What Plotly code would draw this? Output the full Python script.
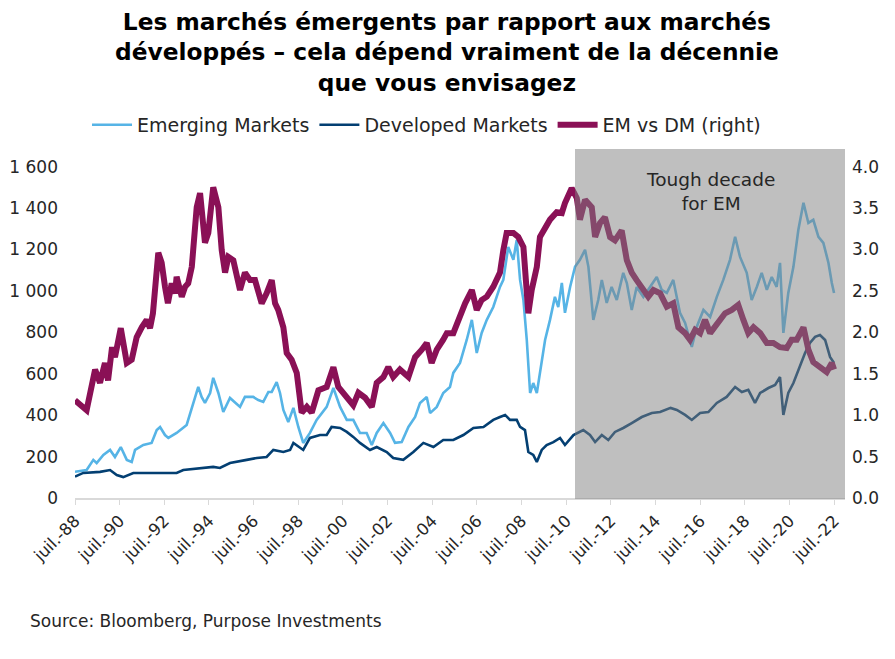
import plotly.graph_objects as go

# ---------------- data ----------------
em_years = [1988.50, 1989.02, 1989.32, 1989.47, 1989.77, 1990.07, 1990.29, 1990.55, 1990.82, 1991.04,
            1991.19, 1991.56, 1991.93, 1992.16, 1992.31, 1992.53, 1992.68, 1993.05, 1993.50, 1993.80,
            1994.02, 1994.17, 1994.32, 1994.55, 1994.69, 1994.92, 1995.14, 1995.44, 1995.89, 1996.11,
            1996.48, 1996.71, 1996.93, 1997.16, 1997.31, 1997.53, 1997.68, 1997.83, 1998.05, 1998.28,
            1998.50, 1998.72, 1999.02, 1999.32, 1999.55, 1999.77, 2000.07, 2000.37, 2000.67, 2000.96,
            2001.26, 2001.56, 2001.79, 2002.01, 2002.31, 2002.61, 2002.83, 2003.13, 2003.43, 2003.73,
            2003.95, 2004.25, 2004.40, 2004.70, 2004.99, 2005.29, 2005.44, 2005.74, 2006.04, 2006.27,
            2006.49, 2006.71, 2006.94, 2007.23, 2007.53, 2007.68, 2007.90, 2008.13, 2008.28, 2008.43,
            2008.58, 2008.73, 2008.88, 2009.02, 2009.18, 2009.32, 2009.55, 2009.77, 2009.99, 2010.14,
            2010.30, 2010.44, 2010.67, 2010.89, 2011.11, 2011.34, 2011.49, 2011.71, 2011.93, 2012.09,
            2012.31, 2012.53, 2012.76, 2013.05, 2013.21, 2013.43, 2013.65, 2013.95, 2014.25, 2014.55,
            2014.77, 2015.00, 2015.29, 2015.59, 2015.82, 2016.12, 2016.34, 2016.64, 2016.94, 2017.24,
            2017.53, 2017.83, 2018.06, 2018.28, 2018.58, 2018.80, 2019.03, 2019.25, 2019.48, 2019.70,
            2019.92, 2020.07, 2020.22, 2020.44, 2020.67, 2020.89, 2021.12, 2021.34, 2021.56, 2021.79,
            2022.01, 2022.24, 2022.39, 2022.49]
em_values = [127, 135, 184, 169, 208, 232, 198, 246, 184, 174,
             232, 256, 266, 328, 343, 304, 290, 314, 353, 459,
             536, 488, 459, 507, 580, 507, 415, 483, 440, 488,
             488, 473, 464, 512, 512, 560, 507, 425, 367, 435,
             343, 266, 314, 377, 410, 440, 531, 440, 377, 377,
             314, 314, 256, 314, 362, 314, 266, 270, 343, 391,
             459, 488, 410, 440, 507, 536, 604, 652, 763, 860,
             700, 797, 860, 922, 1019, 1053, 1212, 1150, 1246, 1053,
             956, 763, 507, 555, 507, 604, 763, 860, 971, 922,
             1038, 894, 1019, 1116, 1150, 1198, 1116, 860, 956, 1053,
             942, 1019, 956, 1087, 1038, 908, 1019, 971, 1019, 1067,
             1005, 990, 1053, 894, 845, 729, 826, 908, 874, 971,
             1053, 1150, 1261, 1164, 1087, 956, 1019, 1087, 1005, 1067,
             1019, 1135, 797, 990, 1116, 1294, 1425, 1328, 1343, 1261,
             1232, 1135, 1038, 990]

dm_years = [1988.50, 1988.87, 1989.62, 1990.07, 1990.37, 1990.66, 1991.11, 1991.86, 1992.61, 1993.05,
            1993.35, 1994.10, 1994.69, 1994.99, 1995.44, 1996.19, 1996.64, 1997.08, 1997.38, 1997.83,
            1998.13, 1998.28, 1998.72, 1999.02, 1999.47, 1999.77, 1999.99, 2000.37, 2000.67, 2000.96,
            2001.26, 2001.71, 2002.01, 2002.46, 2002.75, 2003.20, 2003.65, 2004.10, 2004.55, 2004.99,
            2005.44, 2005.89, 2006.34, 2006.79, 2007.23, 2007.53, 2007.76, 2007.98, 2008.28, 2008.43,
            2008.65, 2008.80, 2009.02, 2009.18, 2009.40, 2009.62, 2009.92, 2010.22, 2010.44, 2010.82,
            2011.26, 2011.56, 2011.79, 2012.09, 2012.38, 2012.68, 2013.05, 2013.43, 2013.88, 2014.33,
            2014.70, 2015.17, 2015.45, 2015.82, 2016.12, 2016.49, 2016.86, 2017.24, 2017.68, 2018.06,
            2018.36, 2018.65, 2018.95, 2019.18, 2019.55, 2019.85, 2020.07, 2020.22, 2020.44, 2020.67,
            2020.89, 2021.19, 2021.41, 2021.64, 2021.86, 2022.09, 2022.31, 2022.49]
dm_values = [103, 121, 126, 135, 111, 101, 121, 121, 121, 121,
             135, 145, 150, 145, 169, 184, 193, 198, 232, 222,
             232, 266, 232, 290, 304, 304, 343, 338, 319, 295,
             266, 232, 246, 222, 193, 184, 222, 266, 246, 280,
             280, 304, 338, 343, 377, 391, 401, 377, 377, 343,
             328, 222, 208, 174, 232, 256, 270, 290, 256, 304,
             328, 304, 270, 304, 280, 319, 338, 362, 391, 410,
             415, 435, 425, 401, 377, 410, 415, 459, 488, 536,
             512, 522, 459, 507, 531, 546, 584, 401, 507, 555,
             618, 700, 749, 778, 787, 763, 681, 652]

ratio_years = [1988.50, 1989.02, 1989.40, 1989.62, 1989.84, 1989.98, 1990.16, 1990.29, 1990.55, 1990.82,
               1991.04, 1991.26, 1991.49, 1991.71, 1991.86, 1991.99, 1992.23, 1992.38, 1992.53, 1992.66,
               1992.83, 1992.98, 1993.05, 1993.28, 1993.43, 1993.57, 1993.73, 1993.95, 1994.10, 1994.32,
               1994.47, 1994.69, 1994.92, 1995.07, 1995.22, 1995.37, 1995.59, 1995.89, 1996.11, 1996.34,
               1996.56, 1996.86, 1997.08, 1997.31, 1997.46, 1997.60, 1997.83, 1997.98, 1998.20, 1998.43,
               1998.65, 1998.88, 1999.10, 1999.40, 1999.77, 2000.07, 2000.29, 2000.67, 2000.96, 2001.19,
               2001.49, 2001.79, 2002.01, 2002.31, 2002.53, 2002.75, 2003.05, 2003.43, 2003.73, 2004.03,
               2004.25, 2004.47, 2004.70, 2004.99, 2005.15, 2005.44, 2005.67, 2005.97, 2006.27, 2006.49,
               2006.71, 2006.94, 2007.23, 2007.53, 2007.68, 2007.83, 2008.13, 2008.35, 2008.58, 2008.73,
               2008.80, 2008.95, 2009.18, 2009.32, 2009.55, 2009.77, 2010.07, 2010.30, 2010.44, 2010.74,
               2010.97, 2011.11, 2011.34, 2011.64, 2011.79, 2012.01, 2012.23, 2012.46, 2012.68, 2012.98,
               2013.21, 2013.43, 2013.65, 2013.88, 2014.17, 2014.40, 2014.70, 2015.00, 2015.29, 2015.52,
               2015.82, 2016.04, 2016.27, 2016.49, 2016.71, 2016.94, 2017.24, 2017.61, 2017.91, 2018.20,
               2018.43, 2018.65, 2018.88, 2019.18, 2019.48, 2019.77, 2020.07, 2020.37, 2020.59, 2020.82,
               2021.12, 2021.34, 2021.56, 2021.86, 2022.16, 2022.39, 2022.49]
ratio_values = [1.18, 1.06, 1.55, 1.39, 1.63, 1.42, 1.82, 1.70, 2.05, 1.63,
                1.67, 1.94, 2.06, 2.15, 2.05, 2.23, 2.96, 2.84, 2.55, 2.35,
                2.59, 2.47, 2.67, 2.43, 2.55, 2.59, 2.79, 3.51, 3.68, 3.08,
                3.20, 3.75, 3.51, 2.99, 2.72, 2.91, 2.87, 2.51, 2.72, 2.63,
                2.63, 2.35, 2.47, 2.63, 2.35, 2.27, 2.06, 1.75, 1.67, 1.51,
                1.03, 1.10, 1.03, 1.30, 1.34, 1.58, 1.34, 1.22, 1.12, 1.27,
                1.21, 1.10, 1.39, 1.46, 1.58, 1.46, 1.55, 1.46, 1.70, 1.79,
                1.87, 1.63, 1.79, 1.91, 1.99, 1.99, 2.15, 2.35, 2.51, 2.27,
                2.39, 2.43, 2.55, 2.72, 2.99, 3.20, 3.20, 3.15, 3.03, 2.59,
                2.23, 2.51, 2.79, 3.15, 3.27, 3.36, 3.45, 3.44, 3.56, 3.74,
                3.62, 3.36, 3.60, 3.51, 3.15, 3.32, 3.39, 3.15, 3.11, 3.23,
                2.87, 2.72, 2.63, 2.55, 2.43, 2.51, 2.47, 2.31, 2.35, 2.06,
                1.99, 1.91, 2.03, 1.99, 2.15, 1.99, 2.11, 2.23, 2.27, 2.33,
                2.15, 1.99, 2.06, 1.99, 1.87, 1.87, 1.82, 1.81, 1.91, 1.91,
                2.06, 1.79, 1.64, 1.58, 1.52, 1.63, 1.55]

tick_years = [1988.5 + 2 * i for i in range(18)]
tick_labels = ["juil.-88", "juil.-90", "juil.-92", "juil.-94", "juil.-96", "juil.-98",
               "juil.-00", "juil.-02", "juil.-04", "juil.-06", "juil.-08", "juil.-10",
               "juil.-12", "juil.-14", "juil.-16", "juil.-18", "juil.-20", "juil.-22"]
left_ticks = [0, 200, 400, 600, 800, 1000, 1200, 1400, 1600]
left_labels = ["0", "200", "400", "600", "800", "1 000", "1 200", "1 400", "1 600"]
right_ticks = [0.0, 0.5, 1.0, 1.5, 2.0, 2.5, 3.0, 3.5, 4.0]
right_labels = ["0.0", "0.5", "1.0", "1.5", "2.0", "2.5", "3.0", "3.5", "4.0"]

shade_start = 2010.89
x_range = [1988.5, 2022.98]

FONT = "DejaVu Sans"
TXT = "#262626"

fig = go.Figure()
fig.add_trace(go.Scatter(x=em_years, y=em_values, name="Emerging Markets", mode="lines",
                         line=dict(color="#56B4E6", width=2.6)))
fig.add_trace(go.Scatter(x=dm_years, y=dm_values, name="Developed Markets", mode="lines",
                         line=dict(color="#033F72", width=2.6)))
fig.add_trace(go.Scatter(x=ratio_years, y=ratio_values, name="EM vs DM (right)", mode="lines",
                         yaxis="y2", line=dict(color="#8A1056", width=6)))

fig.add_shape(type="rect", xref="x", yref="paper", x0=shade_start, x1=x_range[1], y0=-0.003, y1=1,
              fillcolor="rgba(128,128,128,0.5)", line=dict(width=0), layer="above")

fig.add_annotation(x=2016.95, y=1482, xref="x", yref="y", text="Tough decade<br>for EM",
                   showarrow=False, font=dict(family=FONT, size=18.5, color=TXT), align="center")

fig.add_annotation(x=-0.061, y=-0.352, xref="paper", yref="paper", xanchor="left", yanchor="middle",
                   text="Source: Bloomberg, Purpose Investments", showarrow=False,
                   font=dict(family=FONT, size=17, color=TXT))

fig.add_annotation(x=0.483, y=1.41, xref="paper", yref="paper", xanchor="center", yanchor="top",
                   text="<b>Les marchés émergents par rapport aux marchés<br>développés – cela dépend vraiment de la décennie<br>que vous envisagez</b>",
                   showarrow=False, align="center",
                   font=dict(family=FONT, size=23.3, color="#000000"))

fig.update_layout(
    width=895, height=659,
    margin=dict(l=75, r=50, t=149, b=161, autoexpand=False),
    paper_bgcolor="white", plot_bgcolor="white",
    font=dict(family=FONT, size=16, color=TXT),
    legend=dict(orientation="h", x=0.0156, xanchor="left", y=1.069, yanchor="middle",
                font=dict(family=FONT, size=19, color=TXT), itemwidth=40,
                tracegroupgap=0),
    xaxis=dict(range=x_range, tickvals=tick_years, ticktext=tick_labels, tickangle=-45,
               showgrid=False, zeroline=False, showline=True, linecolor="#D9D9D9", linewidth=1.5,
               ticks="outside", ticklen=5, tickcolor="#D9D9D9", tickfont=dict(size=16.5),
               automargin=False),
    yaxis=dict(range=[0, 1685], tickvals=left_ticks, ticktext=left_labels, showgrid=False,
               zeroline=False, showline=False, ticks="", ticklabelstandoff=16, tickfont=dict(size=17),
               automargin=False),
    yaxis2=dict(range=[0, 4.2125], tickvals=right_ticks, ticktext=right_labels, overlaying="y",
                side="right", showgrid=False, zeroline=False, showline=False, ticks="",
                ticklabelstandoff=6, tickfont=dict(size=17), automargin=False),
)

fig.write_html("out.html", post_script="document.body.style.margin='0';",
               config={"displayModeBar": False})
